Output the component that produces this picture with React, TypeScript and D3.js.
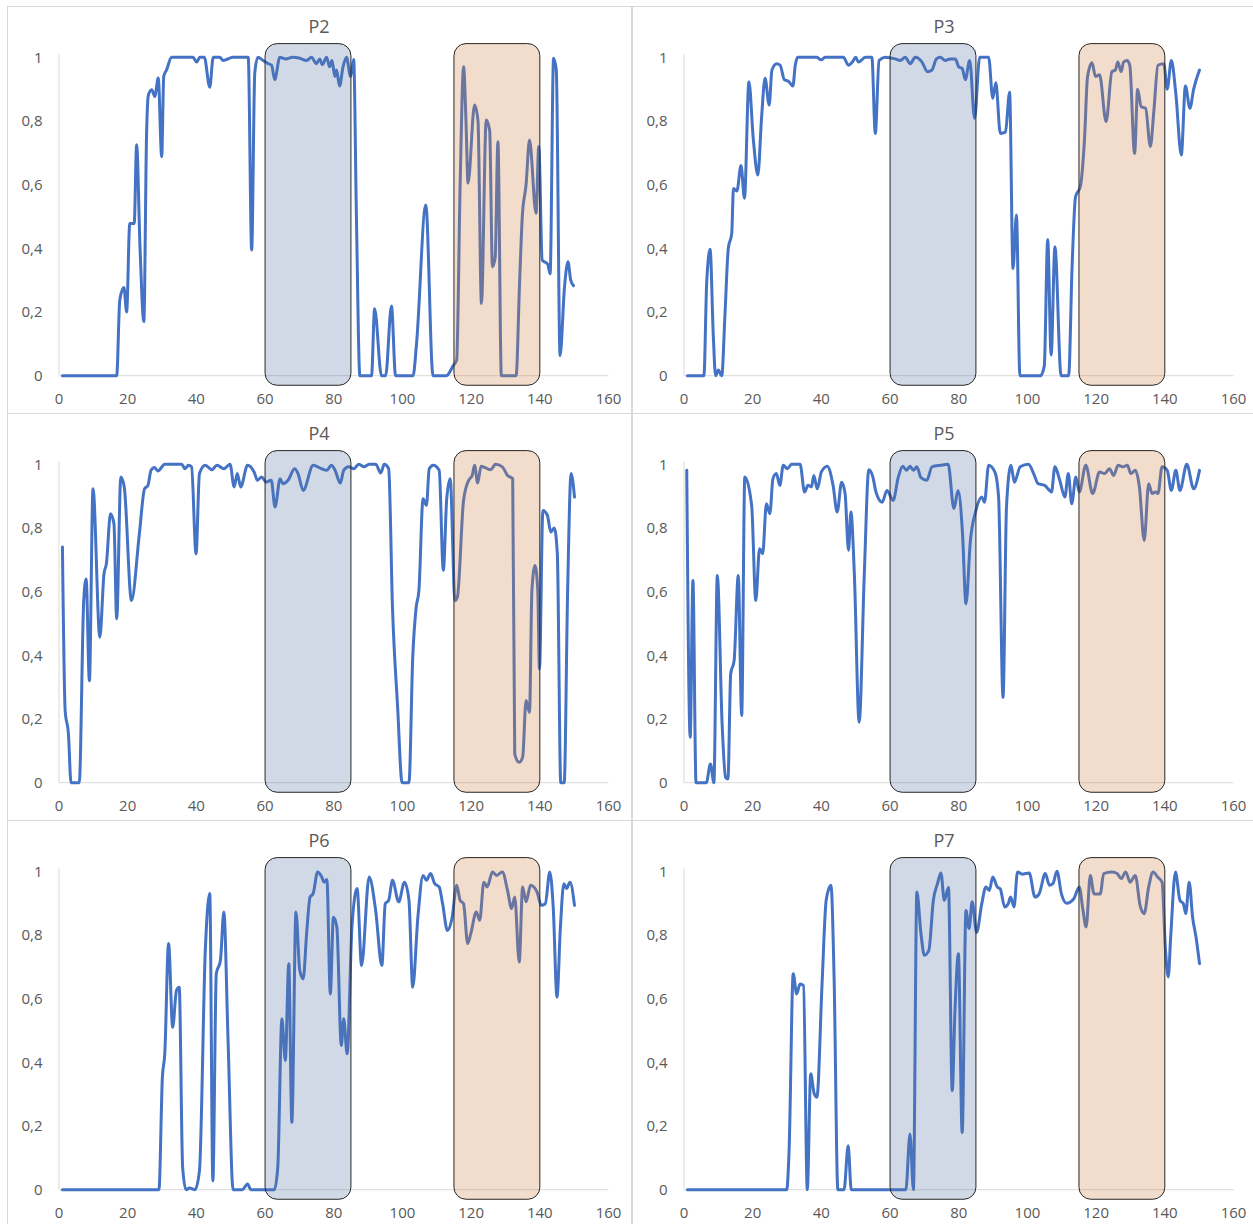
import React from "react";
import * as d3 from "d3";

type Pt = [number, number];

const panelTitles = ["P2", "P3", "P4", "P5", "P6", "P7"];
const xTicks = [0, 20, 40, 60, 80, 100, 120, 140, 160];
const yTicks = [0, 0.2, 0.4, 0.6, 0.8, 1];
const yTickLabels = ["0", "0,2", "0,4", "0,6", "0,8", "1"];
const blueRegion = [60, 85];
const orangeRegion = [115, 140];

const P2: Pt[] = [
  [1, 0], [16.8, 0], [17.7, 0.238], [18.9, 0.277], [19.7, 0.2], [20.6, 0.478], [21.9, 0.478], [22.6, 0.725],
  [23.6, 0.4], [24.7, 0.17], [25.5, 0.76], [26.0, 0.88], [27.0, 0.898], [27.9, 0.877], [28.9, 0.935], [29.9, 0.688],
  [30.5, 0.94], [31.3, 0.96], [32.8, 1], [39, 1], [40.1, 0.985], [41, 1], [42.3, 1], [43.9, 0.906], [44.9, 1],
  [46.8, 1], [47.8, 0.99], [50.7, 1], [55.1, 1], [56.1, 0.395], [57.0, 0.95], [57.9, 1], [59.4, 0.99],
  [60.9, 0.98], [61.9, 0.975], [62.8, 0.93], [64.3, 1], [66, 0.995], [68, 1], [70.1, 0.997], [72.1, 0.99],
  [73.5, 1], [75, 0.98], [75.9, 0.995], [76.7, 0.977], [77.9, 1], [78.8, 0.97], [79.5, 0.99], [80.3, 0.94],
  [80.8, 0.96], [81.7, 0.91], [82.7, 0.97], [83.7, 1], [84.9, 0.94], [85.8, 0.993], [86.6, 0.5], [87.6, 0],
  [91, 0], [91.9, 0.21], [93.9, 0], [95.1, 0], [96.8, 0.219], [98.0, 0], [103.1, 0], [104.1, 0.1],
  [106.8, 0.536], [108.9, 0], [112.8, 0], [114.7, 0.03], [115.8, 0.05], [116.8, 0.6], [117.8, 0.97],
  [118.5, 0.8], [119.1, 0.605], [121.0, 0.85], [122, 0.8], [123, 0.227], [124.4, 0.803], [125.4, 0.77],
  [126.2, 0.342], [127, 0.37], [127.8, 0.735], [128.8, 0], [133.1, 0], [134.1, 0.29], [134.9, 0.5],
  [136, 0.6], [137, 0.74], [138.9, 0.51], [139.7, 0.72], [140.7, 0.363], [142.3, 0.35], [143, 0.32],
  [144, 0.997], [144.8, 0.96], [145.9, 0.063], [147.2, 0.28], [148.2, 0.358], [149, 0.3], [149.8, 0.283],
];

const P3: Pt[] = [
  [1, 0], [5.8, 0], [6.6, 0.29], [7.6, 0.397], [8.5, 0.134], [9.2, 0], [10.0, 0.018], [11.0, 0],
  [11.9, 0.185], [12.9, 0.4], [13.9, 0.447], [14.4, 0.588], [15.4, 0.58], [16.6, 0.66], [17.6, 0.557],
  [18.9, 0.923], [20.2, 0.74], [21.5, 0.63], [22.6, 0.813], [23.6, 0.934], [24.8, 0.85], [25.6, 0.96],
  [27.0, 0.98], [28.0, 0.975], [29.2, 0.93], [30.4, 0.925], [31.7, 0.91], [32.4, 0.975], [33.1, 1],
  [38.7, 1], [39.9, 0.992], [41.1, 1], [45, 1], [46.4, 1], [47.9, 0.975], [49.0, 0.985], [50.0, 1],
  [50.8, 0.985], [52.8, 1], [54.7, 1], [55.7, 0.761], [56.8, 0.99], [58.6, 1], [61.5, 0.995], [63.0, 0.99],
  [64.4, 1], [65.9, 0.98], [67.3, 1], [69.3, 0.985], [70.9, 0.955], [72.2, 0.96], [73.5, 0.995],
  [74.6, 1], [76.1, 0.99], [77.5, 0.995], [79.0, 0.995], [80.0, 0.97], [81.0, 0.965], [81.9, 0.93],
  [83.2, 0.99], [84.6, 0.808], [86.1, 1], [88.7, 1], [89.9, 0.871], [90.8, 0.92], [92.1, 0.761],
  [93.6, 0.765], [94.8, 0.89], [95.8, 0.337], [96.8, 0.505], [97.8, 0], [103.8, 0], [104.9, 0.03],
  [105.9, 0.428], [106.9, 0.065], [108.0, 0.405], [109.8, 0], [112.0, 0], [113.0, 0.342], [114.0, 0.562],
  [115.4, 0.594], [116.6, 0.74], [117.5, 0.939], [118.8, 0.983], [119.8, 0.94], [121.0, 0.945],
  [122.9, 0.798], [124.6, 0.955], [125.6, 0.96], [126.3, 0.985], [127.3, 0.955], [128.0, 0.985],
  [129.0, 0.99], [129.8, 0.975], [131.2, 0.698], [132.1, 0.9], [133.1, 0.845], [134.4, 0.84],
  [135.8, 0.72], [136.8, 0.83], [138.0, 0.975], [139.7, 0.98], [140.7, 0.9], [141.9, 0.99],
  [143.2, 0.887], [144.8, 0.693], [146.0, 0.91], [147.3, 0.84], [148.4, 0.9], [150.1, 0.96],
];

const P4: Pt[] = [
  [1, 0.74], [1.8, 0.226], [2.75, 0.153], [3.5, 0], [5.9, 0], [7.2, 0.572], [7.9, 0.64], [8.85, 0.32],
  [9.9, 0.923], [11.9, 0.457], [13.1, 0.656], [13.8, 0.688], [15.0, 0.845], [16.0, 0.813], [16.8, 0.515],
  [18.0, 0.96], [19.0, 0.929], [21.1, 0.572], [23.4, 0.782], [24.9, 0.923], [25.9, 0.934], [26.8, 0.981],
  [27.8, 0.99], [28.8, 0.979], [30.8, 1], [35.7, 1], [36.7, 0.986], [37.7, 0.997], [38.6, 0.992],
  [39.9, 0.719], [40.9, 0.971], [42.6, 0.997], [44.5, 0.983], [46.0, 0.997], [48.0, 0.986], [49.8, 1],
  [51.0, 0.929], [51.9, 0.971], [52.9, 0.929], [54.9, 0.997], [56.8, 0.976], [57.8, 0.95], [59.0, 0.96],
  [60.3, 0.944], [61.8, 0.95], [62.9, 0.866], [64.4, 0.955], [65.2, 0.939], [66.7, 0.95], [68.6, 0.986],
  [69.6, 0.971], [71.1, 0.918], [74.0, 0.997], [76.5, 0.986], [78.0, 0.981], [79.3, 0.997], [80.4, 0.981],
  [81.9, 0.941], [82.9, 0.981], [84.4, 0.992], [85.8, 0.986], [87.3, 1], [88.8, 0.992], [90.3, 1],
  [92.2, 1], [93.7, 0.973], [94.7, 1], [96.0, 0.986], [97.1, 0.551], [98.6, 0.237], [99.9, 0],
  [101.9, 0], [103.0, 0.394], [104.0, 0.551], [104.8, 0.604], [106.0, 0.892], [107.0, 0.871],
  [107.8, 0.986], [109.0, 0.997], [110.7, 0.981], [111.9, 0.667], [112.9, 0.892], [113.9, 0.955],
  [115.3, 0.572], [116.0, 0.583], [117.8, 0.887], [119.3, 0.95], [120.3, 0.965], [121.0, 0.997],
  [121.9, 0.941], [122.9, 0.994], [125.7, 0.983], [127.1, 1], [129.1, 0.992], [130.6, 0.965],
  [132.1, 0.955], [132.7, 0.09], [134.0, 0.064], [135.0, 0.08], [136.0, 0.258], [137.0, 0.221],
  [137.7, 0.604], [138.6, 0.682], [139.4, 0.604], [139.9, 0.357], [140.9, 0.855], [142.2, 0.84],
  [143.2, 0.787], [144.2, 0.8], [145.1, 0.719], [146.1, 0], [147.1, 0], [148.1, 0.604], [149.1, 0.971],
  [150.1, 0.897],
];

const P5: Pt[] = [
  [0.8, 0.981], [1.8, 0.143], [2.6, 0.635], [3.5, 0], [6.5, 0], [7.7, 0.059], [8.7, 0], [9.7, 0.651],
  [11.1, 0.184], [12.1, 0.017], [12.8, 0.012], [13.6, 0.342], [14.6, 0.384], [15.8, 0.651], [16.8, 0.211],
  [17.7, 0.96], [19.7, 0.871], [20.9, 0.572], [22.0, 0.735], [22.9, 0.719], [24.0, 0.876], [25.0, 0.845],
  [25.9, 0.955], [26.9, 0.971], [27.9, 0.934], [28.9, 0.997], [30.1, 0.986], [31.3, 1], [33.8, 1],
  [35.1, 0.913], [36.1, 0.934], [37.1, 0.929], [37.8, 0.965], [38.8, 0.923], [40.0, 0.976], [41.7, 0.994],
  [43.4, 0.934], [44.6, 0.85], [45.9, 0.944], [46.9, 0.908], [47.9, 0.73], [48.6, 0.85], [49.6, 0.656],
  [51.0, 0.19], [52.5, 0.656], [53.8, 0.983], [55.0, 0.96], [55.9, 0.913], [57.7, 0.881], [59.1, 0.918],
  [60.9, 0.887], [62.4, 0.96], [63.7, 0.994], [64.8, 0.981], [65.8, 0.994], [66.8, 0.981], [67.8, 0.992],
  [69.0, 0.958], [70.7, 0.95], [72.2, 0.992], [74.7, 0.997], [76.9, 1], [78.6, 0.861], [79.8, 0.918],
  [81.1, 0.782], [82.1, 0.562], [83.4, 0.761], [85.0, 0.855], [86.7, 0.897], [87.5, 0.881], [88.7, 0.997],
  [90.5, 0.976], [91.6, 0.897], [92.9, 0.268], [93.9, 0.866], [95.2, 0.997], [96.2, 0.944], [97.9, 0.992],
  [100.3, 1], [101.8, 0.971], [103.1, 0.939], [105.0, 0.934], [106.0, 0.923], [107.0, 0.913], [108.0, 0.992],
  [109.4, 0.95], [110.9, 0.897], [111.9, 0.971], [112.9, 0.876], [114.1, 0.96], [115.1, 0.913], [117.0, 0.997],
  [119.0, 0.908], [121.0, 0.976], [122.5, 0.971], [123.9, 0.986], [125.1, 0.965], [126.4, 0.997],
  [127.9, 0.992], [129.1, 0.997], [130.1, 0.971], [131.4, 0.981], [132.6, 0.929], [134.0, 0.761],
  [135.3, 0.939], [136.3, 0.908], [137.3, 0.913], [138.0, 0.908], [139.2, 0.992], [140.7, 0.981],
  [141.9, 0.918], [143.2, 0.981], [144.4, 0.918], [146.4, 1], [148.4, 0.923], [150.1, 0.981],
];

const P6: Pt[] = [
  [1, 0], [29.1, 0], [30.1, 0.353], [30.8, 0.427], [31.9, 0.773], [33.1, 0.51], [34.2, 0.626], [35.0, 0.636],
  [36.0, 0.07], [37.0, 0], [38.0, 0.005], [39.6, 0], [40.9, 0.06], [42.6, 0.752], [43.9, 0.93], [44.8, 0.028],
  [45.8, 0.678], [47.0, 0.72], [48.0, 0.872], [49.2, 0.479], [50.7, 0], [53.4, 0], [54.9, 0.018], [55.9, 0],
  [62.7, 0], [63.7, 0.07], [64.9, 0.537], [65.9, 0.406], [66.9, 0.71], [67.8, 0.212], [69.0, 0.872],
  [70.1, 0.689], [71.1, 0.662], [72.1, 0.804], [73.1, 0.919], [74.0, 0.93], [75.3, 0.998], [76.5, 0.982],
  [77.2, 0.966], [78.0, 0.974], [79.0, 0.615], [79.9, 0.856], [80.9, 0.825], [82.2, 0.453], [82.9, 0.537],
  [83.9, 0.427], [85.3, 0.825], [86.8, 0.946], [88.1, 0.704], [90.3, 0.982], [92.2, 0.877], [94.0, 0.704],
  [95.0, 0.898], [96.0, 0.909], [97.1, 0.972], [98.9, 0.904], [100.6, 0.966], [101.9, 0.909], [103.0, 0.636],
  [104.5, 0.856], [106.0, 0.987], [107.0, 0.972], [108.2, 0.993], [109.4, 0.961], [110.7, 0.951],
  [111.7, 0.898], [113.1, 0.814], [114.4, 0.851], [115.8, 0.956], [116.8, 0.909], [117.8, 0.898],
  [119.0, 0.773], [119.9, 0.804], [121.5, 0.872], [122.5, 0.846], [123.7, 0.966], [124.7, 0.951],
  [126.2, 0.998], [127.4, 0.987], [129.1, 0.998], [130.6, 0.94], [131.8, 0.883], [132.7, 0.919],
  [134.0, 0.715], [135.0, 0.951], [136.0, 0.904], [137.3, 0.956], [139.2, 0.935], [140.4, 0.893],
  [141.6, 0.898], [142.9, 0.998], [143.9, 0.888], [145.0, 0.605], [146.0, 0.825], [147.0, 0.961],
  [147.8, 0.946], [148.8, 0.966], [150.1, 0.893],
];

const P7: Pt[] = [
  [1, 0], [29.9, 0], [30.6, 0.123], [31.8, 0.678], [32.8, 0.615], [33.8, 0.646], [34.8, 0.641], [35.9, 0],
  [36.9, 0.364], [37.9, 0.302], [38.7, 0.29], [40.2, 0.647], [41.4, 0.909], [42.8, 0.956], [43.7, 0.668],
  [44.8, 0], [46.6, 0], [47.8, 0.138], [48.7, 0], [64.6, 0], [65.8, 0.175], [66.8, 0], [67.8, 0.935],
  [69.0, 0.804], [70.0, 0.736], [71.3, 0.752], [72.6, 0.909], [73.8, 0.961], [74.8, 0.995], [75.8, 0.909],
  [77.0, 0.949], [78.1, 0.311], [78.9, 0.563], [79.9, 0.741], [81.0, 0.18], [82.1, 0.877], [83.0, 0.82],
  [83.9, 0.904], [85.2, 0.808], [86.7, 0.898], [87.9, 0.951], [88.9, 0.94], [89.9, 0.982], [91.2, 0.951],
  [92.1, 0.944], [93.4, 0.888], [94.4, 0.898], [95.1, 0.919], [96.1, 0.888], [97.1, 0.998], [98.5, 0.991],
  [100.5, 0.995], [102.2, 0.919], [103.4, 0.929], [105.2, 0.993], [106.4, 0.956], [107.4, 0.961],
  [108.6, 1], [109.9, 0.929], [111.4, 0.9], [113.5, 0.914], [115.1, 0.951], [116.1, 0.883], [117.1, 0.825],
  [118.3, 0.987], [119.4, 0.929], [121.2, 0.929], [122.2, 0.993], [124.6, 0.998], [126.1, 0.993],
  [127.3, 0.977], [128.6, 0.998], [129.9, 0.966], [131.4, 0.987], [132.8, 0.893], [134.0, 0.867],
  [135.3, 0.951], [136.6, 0.998], [137.9, 0.982], [139.2, 0.966], [140.2, 0.752], [141.0, 0.668],
  [141.7, 0.792], [143.1, 0.998], [144.4, 0.909], [145.4, 0.898], [146.1, 0.867], [147.1, 0.966],
  [148.1, 0.855], [149.1, 0.792], [150.1, 0.71],
];

const seriesList: Pt[][] = [P2, P3, P4, P5, P6, P7];

const W = 1253;
const H = 1224;
const FONT = "'Open Sans', 'Noto Sans', sans-serif";

function Panel({ idx }: { idx: number }) {
  const col = idx % 2;
  const row = Math.floor(idx / 2);
  const ox = col === 0 ? 7 : 632;
  const oy = 6 + row * 407;
  const pw = 624;
  const ph = 407;
  const xs = d3.scaleLinear().domain([0, 160]).range([ox + 52, ox + 601.5]);
  const ys = d3.scaleLinear().domain([0, 1]).range([oy + 369.7, oy + 51.3]);
  const line = d3
    .line<Pt>()
    .x((d) => xs(d[0]))
    .y((d) => ys(d[1]))
    .curve(d3.curveMonotoneX);
  const boxTop = ys(1.043);
  const boxBot = ys(-0.03);
  return (
    <g>
      <rect x={ox + 0.5} y={oy + 0.5} width={pw} height={ph} fill="#fff" stroke="#d9d9d9" strokeWidth={1} />
      <line x1={xs(0)} x2={xs(0)} y1={ys(1) - 3} y2={ys(0)} stroke="#d9d9d9" strokeWidth={1} />
      <line x1={xs(0)} x2={xs(160)} y1={ys(0)} y2={ys(0)} stroke="#d9d9d9" strokeWidth={1} />
      {yTicks.map((t, i) => (
        <text key={"y" + i} x={ox + 35.5} y={ys(t) + 5.3} textAnchor="end" fontSize={15} fill="#595959" fontFamily={FONT}>
          {yTickLabels[i]}
        </text>
      ))}
      {xTicks.map((t, i) => (
        <text key={"x" + i} x={xs(t)} y={ys(0) + 27.8} textAnchor="middle" fontSize={15} fill="#595959" fontFamily={FONT}>
          {String(t)}
        </text>
      ))}
      <path d={line(seriesList[idx]) || ""} fill="none" stroke="#4472C4" strokeWidth={3} strokeLinejoin="round" strokeLinecap="round" />
      <rect
        x={xs(blueRegion[0])}
        y={boxTop}
        width={xs(blueRegion[1]) - xs(blueRegion[0])}
        height={boxBot - boxTop}
        rx={12}
        ry={12}
        fill="rgb(90,119,166)"
        fillOpacity={0.28}
        stroke="#262626"
        strokeWidth={1}
      />
      <rect
        x={xs(orangeRegion[0])}
        y={boxTop}
        width={xs(orangeRegion[1]) - xs(orangeRegion[0])}
        height={boxBot - boxTop}
        rx={12}
        ry={12}
        fill="rgb(209,130,69)"
        fillOpacity={0.28}
        stroke="#262626"
        strokeWidth={1}
      />
      <text x={ox + 312} y={oy + 26.5} textAnchor="middle" fontSize={18} fill="#595959" fontFamily={FONT}>
        {panelTitles[idx]}
      </text>
    </g>
  );
}

export default function App() {
  return (
    <svg
      width={W}
      height={H}
      viewBox={`0 0 ${W} ${H}`}
      style={{ position: "absolute", left: 0, top: 0, display: "block", background: "#fff" }}
    >
      <rect x={0} y={0} width={W} height={H} fill="#fff" />
      {panelTitles.map((_, i) => (
        <Panel key={i} idx={i} />
      ))}
    </svg>
  );
}
